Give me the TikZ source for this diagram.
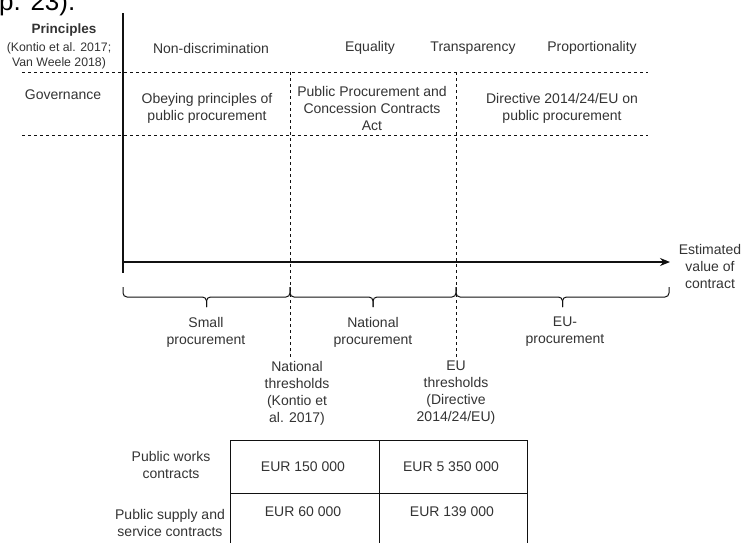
\documentclass[tikz,border=0pt]{standalone}
\usepackage{fontspec}
\setmainfont{Liberation Sans}
\usetikzlibrary{arrows.meta}
\definecolor{txt}{HTML}{333333}
\definecolor{ink}{HTML}{111111}
\tikzset{
  lbl/.style={font=\fontsize{14}{17}\selectfont, align=center, text=txt, inner sep=0pt},
  small/.style={font=\fontsize{12.3}{15}\selectfont, align=center, text=txt, inner sep=0pt},
  head/.style={font=\fontsize{13.5}{16}\selectfont\bfseries, text=txt, inner sep=0pt},
  solidline/.style={draw=ink, line width=1.2pt},
  dashline/.style={draw=ink, line width=0.9pt, dash pattern=on 3pt off 3pt},
  bracket/.style={draw=ink, line width=1pt, rounded corners=4pt},
  grid/.style={draw=ink, line width=1pt},
}
\begin{document}
\begin{tikzpicture}[x=1pt,y=-1pt]
\useasboundingbox (0,0) rectangle (744,542);

% caption fragment running in from above
\node[anchor=base west, inner sep=0pt, text=black, font=\fontsize{26}{30}\selectfont] (cap) at (-1,10) {p. 23).};

% key points on the value axis
\coordinate (axtop) at (123,13);
\coordinate (axbot) at (123,273);
\coordinate (axstart) at (123,262);
\coordinate (axend) at (670,262);
\coordinate (natTop) at (290,72);
\coordinate (natBot) at (290,358);
\coordinate (euTop) at (456,72);
\coordinate (euBot) at (456,358);

% band separators
\coordinate (r1l) at (22,72);  \coordinate (r1r) at (648,72);
\coordinate (r2l) at (22,135); \coordinate (r2r) at (648,135);
\draw[dashline] (r1l) -- (r1r);
\draw[dashline] (r2l) -- (r2r);

% axes
\draw[solidline] (axtop) -- (axbot);
\draw[line width=1.2pt, draw=ink, -{Stealth[length=10pt,width=8pt]}] (axstart) -- (axend);
\draw[dashline] (natTop) -- (natBot);
\draw[dashline] (euTop) -- (euBot);

% principles row
\node[head] (princ) at (64,30) {Principles};
\node[small] (princref) at (59,56) {(Kontio et al. 2017;\\Van Weele 2018)};
\node[lbl] (nondisc) at (211,48) {Non-discrimination};
\node[lbl] (equal) at (370,48) {Equality};
\node[lbl] (transp) at (473,48) {Transparency};
\node[lbl] (propor) at (592,48) {Proportionality};

% governance row
\node[lbl] (gov) at (63,95) {Governance};
\node[lbl] (obey) at (207,108) {Obeying principles of\\public procurement};
\node[lbl] (act) at (372,108) {Public Procurement and\\Concession Contracts\\Act};
\node[lbl] (dir) at (562,108) {Directive 2014/24/EU on\\public procurement};

% axis label
\node[lbl] (estval) at (710,266) {Estimated\\value of\\contract};

% brackets under the axis
\draw[bracket] (123,287) -- (123,297) -- (206.5,297) -- (206.5,307);
\draw[bracket] (206.5,307) -- (206.5,297) -- (290,297) -- (290,287);
\draw[bracket] (290,287) -- (290,297) -- (373,297) -- (373,307);
\draw[bracket] (373,307) -- (373,297) -- (456,297) -- (456,287);
\draw[bracket] (456,287) -- (456,297) -- (562.5,297) -- (562.5,307);
\draw[bracket] (562.5,307) -- (562.5,297) -- (669,297) -- (669,287);

\node[lbl] (smallp) at (206,332) {Small\\procurement};
\node[lbl] (natp) at (373,332) {National\\procurement};
\node[lbl] (eup) at (565,332) {EU-\\procurement};

% thresholds
\node[lbl] (natthr) at (297,393) {National\\thresholds\\(Kontio et\\al. 2017)};
\node[lbl] (euthr) at (456,393) {EU\\thresholds\\(Directive\\2014/24/EU)};

% threshold table
\coordinate (tl) at (230,440);
\coordinate (tr) at (527,440);
\coordinate (bl) at (230,560);
\coordinate (br) at (527,560);
\draw[grid] (bl) -- (tl) -- (tr) -- (br);
\draw[grid] (379,440) -- (379,560);
\draw[grid] (230,493) -- (527,493);

\node[lbl] (works) at (171,465) {Public works\\contracts};
\node[lbl] (supply) at (170,523) {Public supply and\\service contracts};
\node[lbl] (w1) at (303,467) {EUR 150 000};
\node[lbl] (w2) at (451,467) {EUR 5 350 000};
\node[lbl] (s1) at (303,512) {EUR 60 000};
\node[lbl] (s2) at (452,512) {EUR 139 000};
\end{tikzpicture}
\end{document}
